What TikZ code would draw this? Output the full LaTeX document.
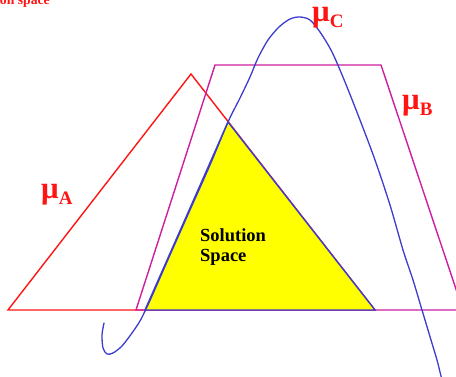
\documentclass[tikz,border=0pt]{standalone}
\usepackage{fontspec}
\setmainfont{Liberation Serif}
\definecolor{cred}{RGB}{255,20,20}
\definecolor{cmag}{RGB}{205,30,160}
\definecolor{cblue}{RGB}{60,60,205}
\definecolor{cyel}{RGB}{255,255,0}
\tikzset{
  mulabel/.style={text=cred, font=\bfseries, inner sep=0pt, anchor=base west},
  soltext/.style={font=\bfseries\fontsize{18.5}{20}\selectfont, inner sep=0pt, anchor=base west},
  shapeline/.style={line width=1.4pt, line join=miter}
}
\newcommand{\mulab}[1]{{\fontsize{31}{31}\selectfont μ}{\fontsize{19}{19}\selectfont\raisebox{-6pt}{#1}}}
\begin{document}
\begin{tikzpicture}[x=1pt,y=-1pt]
\useasboundingbox (0,0) rectangle (456,377);
\clip (0,0) rectangle (456,377);
% red triangle A
\draw[shapeline, cred] (8,310) -- (191,74) -- (375,310) -- cycle;
% magenta trapezoid B
\draw[shapeline, cmag] (136,310) -- (215,65) -- (381,65) -- (463,310) -- cycle;
% yellow solution space
\filldraw[shapeline, fill=cyel, draw=cblue] (145,310) -- (228,122) -- (375,310) -- cycle;
% blue curve C
\draw[line width=1.3pt, cblue, line cap=round] plot[smooth, tension=0.5] coordinates {
 (104,323) (102,335) (103,348) (107,354) (113,353) (122,346) (132,333) (140,321) (146,309)
 (152,296) (170,255) (190,210) (210,165) (228,122) (240,98) (250,77) (258,58) (268,40)
 (279,27) (290,19) (300,17) (310,20) (320,32) (332,52) (345,82) (360,120) (375,160)
 (390,205) (403,250) (413,280) (422,310) (431,340) (437,360) (440,372) (442,380)};
% labels
\node[mulabel] (la) at (41,199) {\mulab{A}};
\node[mulabel] (lb) at (402,110) {\mulab{B}};
\node[mulabel] (lc) at (312,22) {\mulab{C}};
\node[soltext] (s1) at (200,242) {Solution};
\node[soltext] (s2) at (200,262) {Space};
\node[text=cred, font=\bfseries\fontsize{13.7}{14}\selectfont, inner sep=0pt, anchor=base east] (top) at (50,5) {Solution space};
\end{tikzpicture}
\end{document}
